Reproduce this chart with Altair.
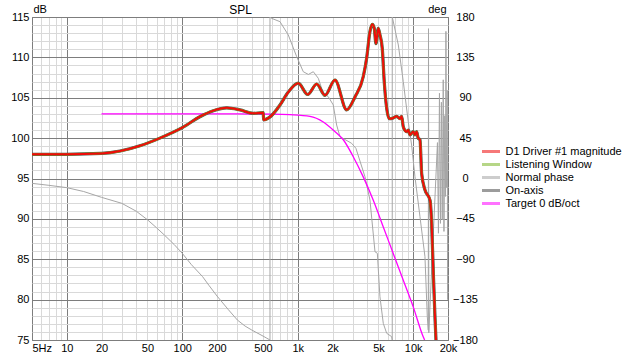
import altair as alt
import pandas as pd

FONT = "Liberation Sans"

series_names = ["D1 Driver #1 magnitude", "Listening Window", "Normal phase", "On-axis", "Target 0 dB/oct"]
series_colors = ["#f00a0a", "#7cb526", "#a6a6a6", "#4d4d4d", "#ff00ff"]
chart_title = "SPL"

# magnitude (dB) of D1 / listening window / on-axis (they coincide)
freq_mag = [5, 10, 20, 29, 43, 64, 100, 142, 186, 243,
            316, 412, 503, 506, 560, 594, 702, 828, 1011, 1220,
            1459, 1722, 2100, 2653, 3130, 3690, 3950, 4220, 4420, 4600,
            4755, 4980, 5150, 5395, 5610, 5890, 6205, 6715, 7190, 7680,
            7940, 8200, 8770, 9060, 9370, 10000, 10350, 10700, 11040, 11440,
            11830, 12630, 13980, 14440, 14900, 15420, 15740]
db_d1 = [98.0, 98.0, 98.1, 98.4, 99.05, 100.0, 101.3, 102.65, 103.4, 103.75,
         103.5, 103.07, 103.15, 102.25, 102.5, 102.8, 104.1, 105.7, 106.8, 105.4,
         106.7, 105.3, 107.2, 103.5, 105.1, 107.6, 109.9, 113.2, 114.1, 113.6,
         111.7, 113.6, 112.8, 111.1, 107.0, 103.7, 102.4, 102.5, 102.7, 102.4,
         102.7, 101.4, 100.8, 101.0, 100.4, 100.8, 100.4, 100.8, 100.0, 99.8,
         95.6, 93.6, 92.3, 89.4, 83.6, 77.9, 75.0]
db_listening = list(db_d1)
db_onaxis = list(db_d1)

# target curve
freq_target = [20, 300, 600, 857, 1276, 1664, 2030, 2480, 3025, 3690, 4510, 5505, 6715, 8200, 10000, 12200, 12550]
db_target = [103.0, 103.0, 102.97, 102.9, 102.7, 102.0, 101.0, 99.8, 97.7, 95.2, 92.3, 89.0, 85.7, 82.4, 79.1, 75.4, 75.0]

# normal phase (deg)
freq_phase = [5, 7, 10, 14, 20, 30, 40, 50, 60, 70,
              85, 100, 120, 150, 170, 200, 250, 300, 350, 400,
              500, 540, 575, 575, 594, 702, 828, 979, 1117, 1236,
              1364, 1506, 1664, 1838, 2030, 2172, 2320, 2930, 3190, 3820,
              4220, 4665, 4890, 5150, 5505, 5890, 6505, 6580, 6580, 6670,
              7430, 8200, 9055, 9680, 10350, 11440, 12630, 13240, 13500, 13560,
              13640, 16210, 16530, 16870, 17210, 17540, 17830, 18190, 18450, 18750,
              19010, 19190, 19450, 19680, 19860, 20000]
deg_phase = [-5.4, -7.6, -10.2, -14.5, -21, -27.7, -36.5, -46, -55, -63,
             -73.5, -83.4, -96, -109.4, -119, -131, -146, -157.7, -164.5, -168.9,
             -175.6, -178, -180, 180, 178.5, 174.8, 160, 135.8, 119, 116,
             119, 111.7, 95, 91.2, 82, 59.6, 46.6, 39.2, 33.6, 2,
             -24, -81.6, -83.4, -131.8, -161.5, -172.5, -176.3, -180, 180, 176.7,
             148.8, 108, 63.3, 37.3, 2, -42.6, -87, -154, -169, 167,
             -172, 40, -61, 95, -50, 85, -46, 110, -59, 70,
             -20, 164, -10, 98, -135, 9]

x_ticks = [5, 10, 20, 50, 100, 200, 500, 1000, 2000, 5000, 10000, 20000]
x_tick_labels = ["5Hz", "10", "20", "50", "100", "200", "500", "1k", "2k", "5k", "10k", "20k"]
x_major = [5, 10, 100, 1000, 10000, 20000]
phase_ticks = [-180, -135, -90, -45, 0, 45, 90, 135, 180]
db_range = [75, 115]

W, H = 416, 323

# grid positions (1..9 per decade)
x_grid = sorted(set([m * d for d in [1, 10, 100, 1000, 10000] for m in range(1, 10)
                     if 5 <= m * d <= 20000] + x_ticks))
y_grid = list(range(db_range[0], db_range[1] + 1))

label_expr = "".join(f"datum.value == {v} ? '{t}' : " for v, t in zip(x_ticks, x_tick_labels)) + "''"
major_test = " || ".join(f"datum.value == {v}" for v in x_major)
x_scale = alt.Scale(type="log", domain=[5, 20000], nice=False)

x_axis = alt.Axis(values=x_grid, labelExpr=label_expr, grid=True, orient="bottom",
                  gridColor={"condition": {"test": major_test, "value": "#7d7d7d"}, "value": "#d9d9d9"},
                  ticks=False, tickSize=0, domain=False, labelFlush=False, labelOverlap=False,
                  labelBound=False,
                  labelAlign={"condition": {"test": "datum.value == 5", "value": "left"}, "value": "center"},
                  labelPadding=2, labelFontSize=11, labelFont=FONT, labelColor="#000", title=None)
x_enc = alt.X("freq:Q", scale=x_scale, axis=x_axis)

# top axis only carries the chart heading
x_top_axis = alt.Axis(orient="top", values=x_ticks, labels=False, grid=False, ticks=False, tickSize=0,
                      domain=False, title=chart_title, titleX=W / 2, titleY=-4, titleAlign="center",
                      titleBaseline="alphabetic", titleFont=FONT, titleFontSize=12,
                      titleFontWeight="normal", titleColor="#000")
x_top_enc = alt.X("freq:Q", scale=x_scale, axis=x_top_axis)

y_axis = alt.Axis(values=y_grid, labelExpr="datum.value % 5 == 0 ? datum.value : ''", grid=True,
                  gridColor={"condition": {"test": "datum.value % 5 == 0", "value": "#7d7d7d"}, "value": "#d9d9d9"},
                  ticks=False, tickSize=0, domain=False, labelOverlap=False, labelFlush=False,
                  labelPadding=3, labelFontSize=11, labelFont=FONT, labelColor="#000", orient="left",
                  title="dB", titleAngle=0, titleAlign="left", titleBaseline="alphabetic", titleX=1, titleY=-5,
                  titleFont=FONT, titleFontSize=11, titleFontWeight="normal", titleColor="#000")
y_enc = alt.Y("db:Q", scale=alt.Scale(domain=db_range, nice=False, zero=False), axis=y_axis)

p_axis = alt.Axis(values=phase_ticks, grid=False, ticks=False, tickSize=0, domain=False, orient="right",
                  labelOverlap=False, labelFlush=False, labelAlign="center", labelPadding=17,
                  labelFontSize=11, labelFont=FONT, labelColor="#000",
                  title="deg", titleAngle=0, titleAlign="right", titleBaseline="alphabetic", titleX=-2, titleY=-5,
                  titleFont=FONT, titleFontSize=11, titleFontWeight="normal", titleColor="#000")
p_enc = alt.Y("deg:Q", scale=alt.Scale(domain=[-180, 180], nice=False, zero=False), axis=p_axis)

legend = alt.Legend(orient="none", legendX=452.5, legendY=128, title=None,
                    symbolType="M-1.8,0H1.8", symbolSize=100, symbolStrokeWidth=3, symbolOpacity=0.55,
                    labelFontSize=11, labelFont=FONT, labelColor="#000", labelOffset=8, rowPadding=0,
                    labelLimit=200, padding=0)
color = alt.Color("series:N", scale=alt.Scale(domain=series_names, range=series_colors), legend=legend)

df_d1 = pd.DataFrame({"freq": freq_mag, "db": db_d1, "series": series_names[0]})
df_lw = pd.DataFrame({"freq": freq_mag, "db": db_listening, "series": series_names[1]})
df_ph = pd.DataFrame({"freq": freq_phase, "deg": deg_phase, "series": series_names[2]})
df_on = pd.DataFrame({"freq": freq_mag, "db": db_onaxis, "series": series_names[3]})
df_tg = pd.DataFrame({"freq": freq_target, "db": db_target, "series": series_names[4]})

def mag_line(df, width):
    return alt.Chart(df).mark_line(strokeWidth=width, clip=True, interpolate="monotone").encode(
        x=x_enc, y=y_enc, color=color, order=alt.Order("freq:Q"))

mag = alt.layer(
    mag_line(df_tg, 1.3),
    mag_line(df_on, 3.2),
    mag_line(df_lw, 2.3),
    mag_line(df_d1, 2.0),
)

phase = alt.Chart(df_ph).mark_line(strokeWidth=1, clip=True).encode(
    x=x_top_enc, y=p_enc, color=color, order=alt.Order("idx:Q")).transform_window(idx="row_number()")

chart = alt.layer(phase, mag).resolve_scale(y="independent").resolve_axis(x="independent").properties(
    width=W, height=H,
    autosize=alt.AutoSizeParams(type="none"),
    padding={"left": 32, "top": 17, "right": 179, "bottom": 14},
    background="white",
).configure_view(stroke="#7d7d7d", strokeWidth=1)

chart.save("out.html", embed_options={"renderer": "svg", "actions": False})
